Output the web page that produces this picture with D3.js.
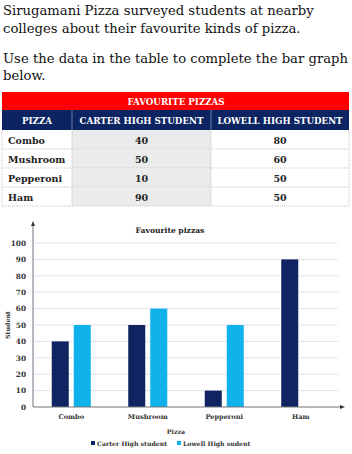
<!DOCTYPE html>
<html>
<head>
<meta charset="utf-8">
<script src="https://cdn.jsdelivr.net/npm/d3@7"></script>
<style>
  body { margin: 0; background: #fff; }
  text { font-family: "DejaVu Serif", serif; }
</style>
</head>
<body>
<div id="chart"></div>
<script>
// data
const pizzas = ["Combo", "Mushroom", "Pepperoni", "Ham"];
const tableCarter = [40, 50, 10, 90];
const tableLowell = [80, 60, 50, 50];
const graphCarter = [40, 50, 10, 90];
const graphLowell = [50, 60, 50, null]; // ham bar not drawn yet
const yTicks = [0, 10, 20, 30, 40, 50, 60, 70, 80, 90, 100];
const seriesNames = ["Carter High student", "Lowell High sudent"];
const introLines = [
  "Sirugamani Pizza surveyed students at nearby",
  "colleges about their favourite kinds of pizza.",
  "Use the data in the table to complete the bar graph",
  "below."
];

const W = 352, H = 454;
const navy = "#0f2461", cyan = "#10b2ec";

const svg = d3.select("#chart").append("svg")
    .attr("width", W).attr("height", H);

// intro text
const introY = [15, 33, 63, 80];
svg.selectAll(".intro")
  .data(introLines)
  .enter().append("text")
  .attr("class", "intro")
  .attr("x", 3)
  .attr("y", (d, i) => introY[i])
  .style("font-size", "13.2px")
  .attr("fill", "#111")
  .text(d => d);

// ---------------- table
const tbl = svg.append("g");
const colX = [2, 72, 211, 349];
const rowTop = 130, rowH = 19;

tbl.append("rect").attr("x", 2).attr("y", 92).attr("width", 347).attr("height", 18).attr("fill", "#ff0000");
tbl.append("text").attr("x", 176).attr("y", 104.5).attr("text-anchor", "middle")
  .attr("fill", "#fff").style("font-size", "8.7px").style("font-weight", "bold")
  .text("FAVOURITE PIZZAS");

tbl.append("rect").attr("x", 2).attr("y", 110).attr("width", 347).attr("height", 20).attr("fill", "#0c2462");
const heads = ["PIZZA", "CARTER HIGH STUDENT", "LOWELL HIGH STUDENT"];
heads.forEach((h, i) => {
  tbl.append("text")
    .attr("x", (colX[i] + colX[i + 1]) / 2).attr("y", 123.5)
    .attr("text-anchor", "middle").attr("fill", "#fff")
    .style("font-size", "8.7px").style("font-weight", "bold")
    .text(h);
  if (i > 0) tbl.append("line").attr("x1", colX[i]).attr("x2", colX[i]).attr("y1", 110).attr("y2", 130)
    .attr("stroke", "#6a7aa0").attr("stroke-width", 1);
});

pizzas.forEach((p, r) => {
  const y = rowTop + r * rowH;
  tbl.append("rect").attr("x", colX[1]).attr("y", y).attr("width", colX[2] - colX[1]).attr("height", rowH)
    .attr("fill", "#ebebeb");
  tbl.append("text").attr("x", 8).attr("y", y + 13.5).attr("fill", "#222")
    .style("font-size", "9.5px").style("font-weight", "bold").text(p);
  tbl.append("text").attr("x", (colX[1] + colX[2]) / 2).attr("y", y + 13.5).attr("text-anchor", "middle")
    .attr("fill", "#222").style("font-size", "9.5px").style("font-weight", "bold").text(tableCarter[r]);
  tbl.append("text").attr("x", (colX[2] + colX[3]) / 2).attr("y", y + 13.5).attr("text-anchor", "middle")
    .attr("fill", "#222").style("font-size", "9.5px").style("font-weight", "bold").text(tableLowell[r]);
  tbl.append("line").attr("x1", 2).attr("x2", 349).attr("y1", y + rowH).attr("y2", y + rowH)
    .attr("stroke", "#c4c4cc").attr("stroke-dasharray", "1,1");
});
[0, 1, 2, 3].forEach(i => {
  tbl.append("line").attr("x1", colX[i]).attr("x2", colX[i]).attr("y1", 130).attr("y2", rowTop + 4 * rowH)
    .attr("stroke", "#c4c4cc").attr("stroke-dasharray", "1,1");
});

// ---------------- bar chart
const plotL = 33, plotR = 339, plotT = 243, plotB = 407;

const x0 = d3.scaleBand().domain(pizzas).range([plotL, plotR])
    .paddingInner(0.49).paddingOuter(0.245);
const x1 = d3.scaleBand().domain(seriesNames).range([0, x0.bandwidth()]).paddingInner(0.227);
const y = d3.scaleLinear().domain([0, 100]).range([plotB, plotT]);

// grid
svg.append("g")
  .selectAll("line")
  .data(yTicks.filter(d => d > 0))
  .enter().append("line")
  .attr("x1", plotL).attr("x2", plotR)
  .attr("y1", d => y(d)).attr("y2", d => y(d))
  .attr("stroke", "#c9c6dc").attr("stroke-width", 1)
  .attr("stroke-dasharray", "1,1");

// y axis
const yAxis = svg.append("g")
  .attr("transform", `translate(${plotL},0)`)
  .call(d3.axisLeft(y).tickValues(yTicks).tickSize(0).tickPadding(7));
yAxis.select(".domain").remove();
yAxis.selectAll("text")
  .style("font-family", "'DejaVu Serif', serif")
  .style("font-size", "7.3px").style("font-weight", "bold").attr("fill", "#333");

svg.append("line").attr("x1", plotL).attr("x2", plotL).attr("y1", 224).attr("y2", plotB)
  .attr("stroke", "#8a8a9a").attr("stroke-width", 1.2);
svg.append("path").attr("d", `M${plotL - 2},226 L${plotL},221 L${plotL + 2},226 Z`).attr("fill", "#333");

// bars
const series = [graphCarter, graphLowell];
const colors = [navy, cyan];
series.forEach((vals, s) => {
  svg.append("g").selectAll("rect")
    .data(pizzas.map((p, i) => ({p, v: vals[i]})).filter(d => d.v != null))
    .enter().append("rect")
    .attr("x", d => x0(d.p) + x1(seriesNames[s]))
    .attr("y", d => y(d.v))
    .attr("width", x1.bandwidth())
    .attr("height", d => y(0) - y(d.v))
    .attr("fill", colors[s]);
});

// x axis
const xAxis = svg.append("g")
  .attr("transform", `translate(0,${plotB})`)
  .call(d3.axisBottom(x0).tickSize(0).tickPadding(7));
xAxis.select(".domain").remove();
xAxis.selectAll("text")
  .style("font-family", "'DejaVu Serif', serif")
  .style("font-size", "6.6px").style("font-weight", "bold").attr("fill", "#333");
svg.append("line").attr("x1", plotL).attr("x2", 342).attr("y1", plotB).attr("y2", plotB)
  .attr("stroke", "#777").attr("stroke-width", 1.2);
svg.append("path").attr("d", `M340,${plotB - 2} L345,${plotB} L340,${plotB + 2} Z`).attr("fill", "#333");

// titles
svg.append("text").attr("x", 170).attr("y", 233).attr("text-anchor", "middle")
  .style("font-size", "7.6px").style("font-weight", "bold").attr("fill", "#222")
  .text("Favourite pizzas");
svg.append("text").attr("x", 176).attr("y", 434).attr("text-anchor", "middle")
  .style("font-size", "6.3px").style("font-weight", "bold").attr("fill", "#333")
  .text("Pizza");
svg.append("text").attr("transform", "translate(10,325) rotate(-90)").attr("text-anchor", "middle")
  .style("font-size", "6.3px").style("font-weight", "bold").attr("fill", "#333")
  .text("Student");

// legend
const legX = [91, 177];
seriesNames.forEach((n, i) => {
  svg.append("rect").attr("x", legX[i]).attr("y", 441).attr("width", 4).attr("height", 4).attr("fill", colors[i]);
  svg.append("text").attr("x", legX[i] + 6).attr("y", 446)
    .style("font-size", "6.2px").style("font-weight", "bold").attr("fill", "#333").text(n);
});
</script>
</body>
</html>
